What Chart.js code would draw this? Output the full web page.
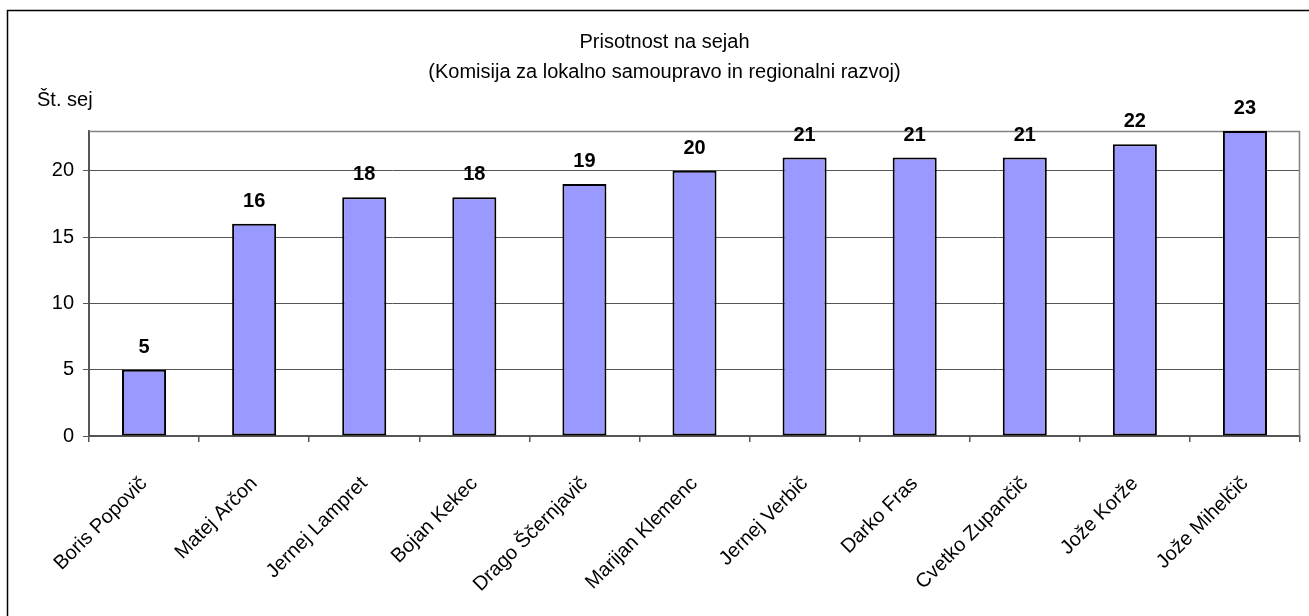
<!DOCTYPE html>
<html>
<head>
<meta charset="utf-8">
<script src="https://cdn.jsdelivr.net/npm/chart.js@4/dist/chart.umd.min.js"></script>
<style>
    body { margin: 0; background: #fff; }
    #wrap { width: 1309px; height: 616px; position: relative; }
</style>
</head>
<body>
<div id="wrap"><canvas id="attendChart"></canvas></div>
<script>
// Data for the chart
const members = ['Boris Popovič', 'Matej Arčon', 'Jernej Lampret', 'Bojan Kekec', 'Drago Ščernjavič',
    'Marijan Klemenc', 'Jernej Verbič', 'Darko Fras', 'Cvetko Zupančič', 'Jože Korže', 'Jože Mihelčič'];
const sessions = [5, 16, 18, 18, 19, 20, 21, 21, 21, 22, 23];
const titleLines = ['Prisotnost na sejah', '(Komisija za lokalno samoupravo in regionalni razvoj)'];
const yTitle = 'Št. sej';
const yTicks = [0, 5, 10, 15, 20];

const FONT = 'Arial, "Liberation Sans", sans-serif';

// frame around the chart, plot box, y title and value labels
const extras = {
    id: 'extras',
    beforeDatasetsDraw(chart) {
        const { ctx, chartArea: a } = chart;
        ctx.save();
        ctx.strokeStyle = '#808080';
        ctx.lineWidth = 1.5;
        ctx.beginPath();
        ctx.moveTo(a.left, a.top + 0.5);
        ctx.lineTo(a.right - 0.5, a.top + 0.5);
        ctx.lineTo(a.right - 0.5, a.bottom);
        ctx.stroke();
        ctx.restore();
    },
    afterDraw(chart) {
        const { ctx, chartArea: a } = chart;
        ctx.save();
        ctx.strokeStyle = '#000';
        ctx.lineWidth = 1.5;
        ctx.strokeRect(7.5, 10.5, 1310, 620);

        ctx.fillStyle = '#000';
        ctx.font = '20px ' + FONT;
        ctx.textAlign = 'left';
        ctx.textBaseline = 'middle';
        ctx.fillText(yTitle, 37, a.top - 31);

        ctx.font = 'bold 20px ' + FONT;
        ctx.textAlign = 'center';
        ctx.textBaseline = 'alphabetic';
        const meta = chart.getDatasetMeta(0);
        meta.data.forEach((bar, i) => {
            ctx.fillText(String(sessions[i]), bar.x, bar.y - 17);
        });
        ctx.restore();
    }
};

new Chart(document.getElementById('attendChart').getContext('2d'), {
    type: 'bar',
    data: {
        labels: members,
        datasets: [{
            data: sessions,
            backgroundColor: '#9999ff',
            borderColor: '#000',
            borderWidth: 2,
            borderSkipped: false,
            barPercentage: 0.4,
            categoryPercentage: 1
        }]
    },
    options: {
        responsive: true,
        maintainAspectRatio: false,
        animation: false,
        layout: { padding: { left: 29, right: 9, top: 0, bottom: 0 } },
        scales: {
            x: {
                afterFit: s => { s.height = 180; },
                grid: { drawOnChartArea: false, drawTicks: true, tickLength: 6, color: '#555', lineWidth: 1.5 },
                border: { color: '#555', width: 2 },
                ticks: {
                    color: '#000',
                    font: { family: FONT, size: 20 },
                    minRotation: 45,
                    maxRotation: 45,
                    padding: 30,
                    autoSkip: false
                }
            },
            y: {
                min: 0,
                max: 23,
                afterBuildTicks: s => { s.ticks = yTicks.map(v => ({ value: v })); },
                afterFit: s => { s.width = 60; },
                grid: { color: '#555', lineWidth: 1, tickLength: 6 },
                border: { color: '#555', width: 2 },
                ticks: {
                    color: '#000',
                    font: { family: FONT, size: 20 },
                    padding: 9
                }
            }
        },
        plugins: {
            legend: { display: false },
            tooltip: { enabled: false },
            title: {
                display: true,
                text: titleLines,
                color: '#000',
                font: { family: FONT, size: 20, weight: 'normal', lineHeight: 1.5 },
                padding: { top: 27, bottom: 44 }
            }
        }
    },
    plugins: [extras]
});
</script>
</body>
</html>
